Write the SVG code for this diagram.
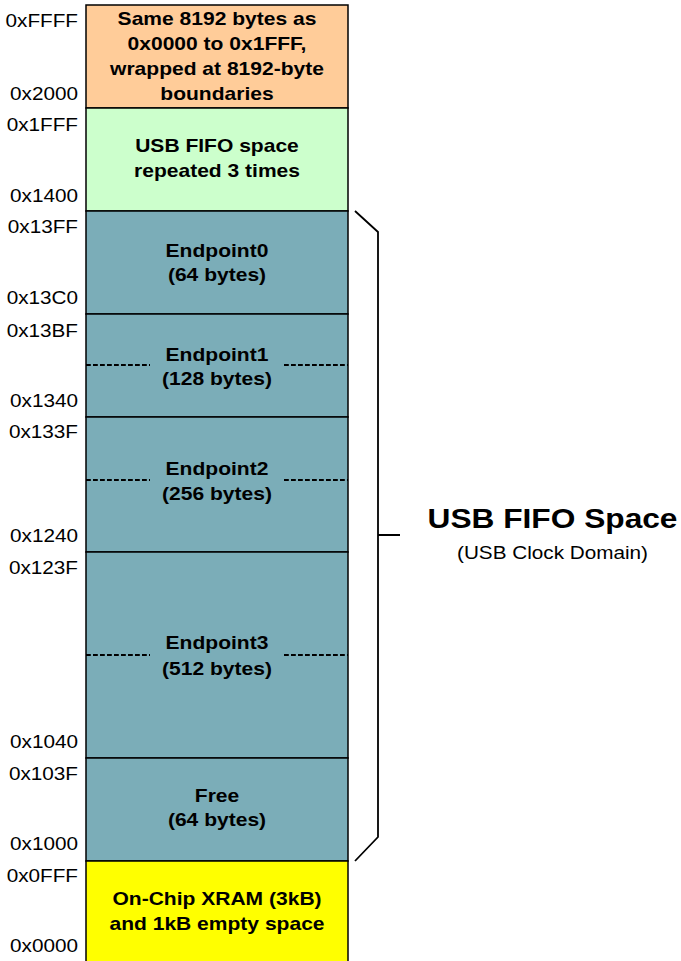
<svg xmlns="http://www.w3.org/2000/svg" width="681" height="961" viewBox="0 0 681 961">
<style>
.addr{font-family:"Liberation Sans",Arial,sans-serif;font-size:18.5px;fill:#000;text-anchor:end}
.lbl{font-family:"Liberation Sans",Arial,sans-serif;font-size:18.8px;font-weight:bold;fill:#000;text-anchor:middle}
.box{stroke:#000;stroke-width:1.5}
.dash{stroke:#000;stroke-width:2;stroke-dasharray:4.8 2.2;fill:none}
.brace{stroke:#000;stroke-width:1.8;fill:none}
</style>
<rect x="0" y="0" width="681" height="961" fill="#fff"/>
<g id="region-wrap">
<rect class="box" x="86" y="5" width="262" height="103" fill="#FFCC99"/>
<g transform="translate(217,0) scale(1.12,1)">
<text class="lbl" x="0" y="25">Same 8192 bytes as</text>
<text class="lbl" x="0" y="50">0x0000 to 0x1FFF,</text>
<text class="lbl" x="0" y="75">wrapped at 8192-byte</text>
<text class="lbl" x="0" y="100">boundaries</text>
</g>
</g>
<g id="region-usb-repeat">
<rect class="box" x="86" y="108" width="262" height="103" fill="#CCFFCC"/>
<g transform="translate(217,0) scale(1.12,1)">
<text class="lbl" x="0" y="152">USB FIFO space</text>
<text class="lbl" x="0" y="177">repeated 3 times</text>
</g>
</g>
<g id="region-ep0">
<rect class="box" x="86" y="211" width="262" height="103" fill="#7BADB8"/>
<g transform="translate(217,0) scale(1.12,1)">
<text class="lbl" x="0" y="257">Endpoint0</text>
<text class="lbl" x="0" y="281">(64 bytes)</text>
</g>
</g>
<g id="region-ep1">
<rect class="box" x="86" y="314" width="262" height="103" fill="#7BADB8"/>
<line class="dash" x1="86" y1="365" x2="150" y2="365"/>
<line class="dash" x1="284" y1="365" x2="348" y2="365"/>
<g transform="translate(217,0) scale(1.12,1)">
<text class="lbl" x="0" y="361.5">Endpoint1</text>
<text class="lbl" x="0" y="385.5">(128 bytes)</text>
</g>
</g>
<g id="region-ep2">
<rect class="box" x="86" y="417" width="262" height="135" fill="#7BADB8"/>
<line class="dash" x1="86" y1="480" x2="150" y2="480"/>
<line class="dash" x1="284" y1="480" x2="348" y2="480"/>
<g transform="translate(217,0) scale(1.12,1)">
<text class="lbl" x="0" y="475.5">Endpoint2</text>
<text class="lbl" x="0" y="500.5">(256 bytes)</text>
</g>
</g>
<g id="region-ep3">
<rect class="box" x="86" y="552" width="262" height="206" fill="#7BADB8"/>
<line class="dash" x1="86" y1="655" x2="150" y2="655"/>
<line class="dash" x1="284" y1="655" x2="348" y2="655"/>
<g transform="translate(217,0) scale(1.12,1)">
<text class="lbl" x="0" y="649.5">Endpoint3</text>
<text class="lbl" x="0" y="675">(512 bytes)</text>
</g>
</g>
<g id="region-free">
<rect class="box" x="86" y="758" width="262" height="103" fill="#7BADB8"/>
<g transform="translate(217,0) scale(1.12,1)">
<text class="lbl" x="0" y="802.5">Free</text>
<text class="lbl" x="0" y="826.5">(64 bytes)</text>
</g>
</g>
<g id="region-xram">
<rect class="box" x="86" y="861" width="262" height="110" fill="#FFFF00"/>
<g transform="translate(217,0) scale(1.12,1)">
<text class="lbl" x="0" y="905">On-Chip XRAM (3kB)</text>
<text class="lbl" x="0" y="930">and 1kB empty space</text>
</g>
</g>
<g id="addresses">
<g transform="translate(78,27.3) scale(1.12,1)"><text class="addr" x="0" y="0">0xFFFF</text></g>
<g transform="translate(78,100) scale(1.12,1)"><text class="addr" x="0" y="0">0x2000</text></g>
<g transform="translate(78,130.7) scale(1.12,1)"><text class="addr" x="0" y="0">0x1FFF</text></g>
<g transform="translate(78,201.7) scale(1.12,1)"><text class="addr" x="0" y="0">0x1400</text></g>
<g transform="translate(78,233.3) scale(1.12,1)"><text class="addr" x="0" y="0">0x13FF</text></g>
<g transform="translate(78,304.3) scale(1.12,1)"><text class="addr" x="0" y="0">0x13C0</text></g>
<g transform="translate(78,336.7) scale(1.12,1)"><text class="addr" x="0" y="0">0x13BF</text></g>
<g transform="translate(78,406.7) scale(1.12,1)"><text class="addr" x="0" y="0">0x1340</text></g>
<g transform="translate(78,438.3) scale(1.12,1)"><text class="addr" x="0" y="0">0x133F</text></g>
<g transform="translate(78,541.7) scale(1.12,1)"><text class="addr" x="0" y="0">0x1240</text></g>
<g transform="translate(78,574.3) scale(1.12,1)"><text class="addr" x="0" y="0">0x123F</text></g>
<g transform="translate(78,747.7) scale(1.12,1)"><text class="addr" x="0" y="0">0x1040</text></g>
<g transform="translate(78,780) scale(1.12,1)"><text class="addr" x="0" y="0">0x103F</text></g>
<g transform="translate(78,850) scale(1.12,1)"><text class="addr" x="0" y="0">0x1000</text></g>
<g transform="translate(78,882.3) scale(1.12,1)"><text class="addr" x="0" y="0">0x0FFF</text></g>
<g transform="translate(78,951.7) scale(1.12,1)"><text class="addr" x="0" y="0">0x0000</text></g>
</g>
<g id="connectors">
<path class="brace" d="M355,211 L378,232 L378,837 L355,861 M378,535 L400,535"/>
</g>
<g id="usb-fifo-label">
<g transform="translate(552.5,0) scale(1.12,1)">
<text x="0" y="528.5" text-anchor="middle" font-family="'Liberation Sans',Arial,sans-serif" font-size="28.3" font-weight="bold">USB FIFO Space</text>
<text x="0" y="559.5" text-anchor="middle" font-family="'Liberation Sans',Arial,sans-serif" font-size="18.5">(USB Clock Domain)</text>
</g>
</g>
</svg>
